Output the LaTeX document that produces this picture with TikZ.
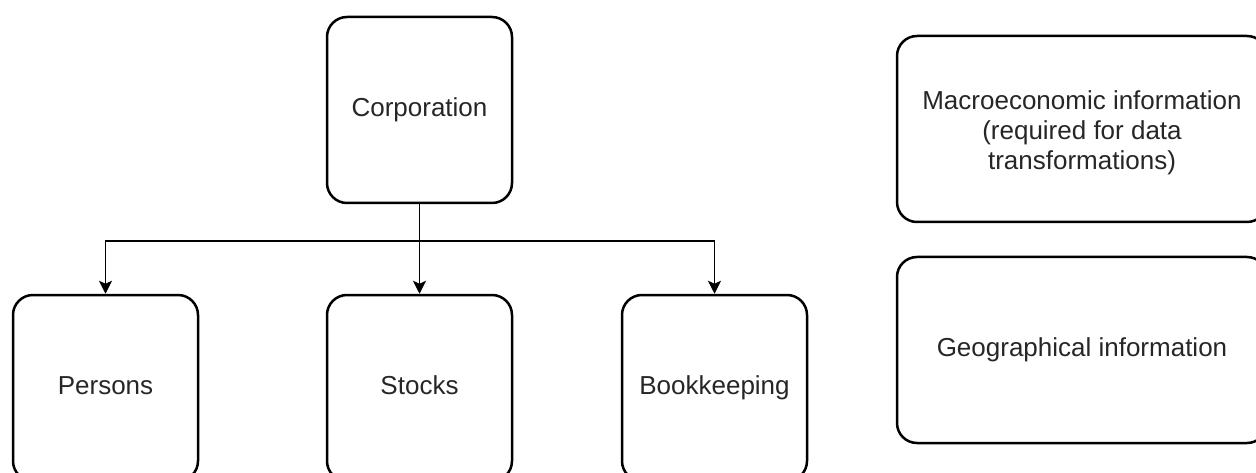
\documentclass[tikz,border=0pt]{standalone}
\usepackage{fontspec}
\setmainfont{Liberation Sans}
\usetikzlibrary{arrows.meta}
\begin{document}
\begin{tikzpicture}[x=1pt,y=-1pt,
  box/.style={draw=black, line width=2.5pt, rounded corners=20pt,
    minimum width=185pt, minimum height=186pt, inner sep=0pt,
    align=center, font=\fontsize{26}{30}\selectfont, text=black!85},
  oneline/.style={box, text height=19pt, text depth=6pt},
  widebox/.style={box, minimum width=370pt},
  link/.style={draw=black, line width=1.3pt,
    -{Stealth[length=13pt,width=13pt,inset=3pt]}}]
\useasboundingbox (0,0) rectangle (1256,473);
\clip (0,0) rectangle (1256,473);
% hierarchy
\node[oneline] (corp) at (419.5,110) {Corporation};
\node[oneline] (persons) at (105.5,388) {Persons};
\node[oneline] (stocks) at (419.5,388) {Stocks};
\node[oneline] (books) at (714.5,388) {Bookkeeping};
% side panels
\node[widebox] (macro) at (1082,129) {};
\node[font=\fontsize{26}{30}\selectfont, text=black!85, align=center, inner sep=0pt]
  (macrotext) at (1082,133) {Macroeconomic information\\(required for data\\transformations)};
\node[widebox, oneline, minimum width=370pt] (geo) at (1082,350) {Geographical information};
% connectors
\coordinate (split) at (419.5,241);
\draw[link] (corp.south) -- (stocks.north);
\draw[link] (split) -| (persons.north);
\draw[link] (split) -| (books.north);
\end{tikzpicture}
\end{document}
